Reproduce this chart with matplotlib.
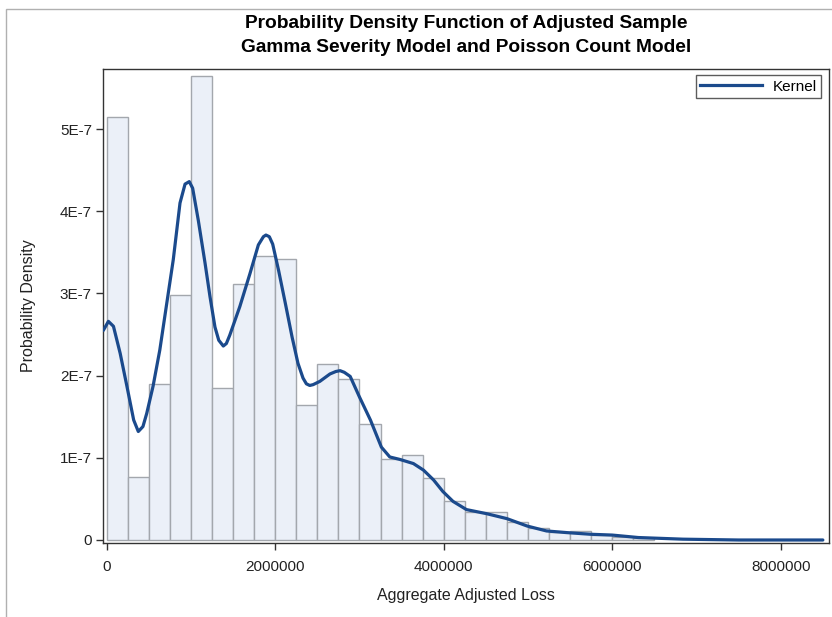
import matplotlib
matplotlib.use("Agg")
import matplotlib.pyplot as plt
from matplotlib.ticker import FuncFormatter
from matplotlib.lines import Line2D
from matplotlib.patches import Rectangle

plt.rcParams['font.family'] = ['Liberation Sans', 'DejaVu Sans']

# Histogram: bin width 250000 starting at 0
bin_width = 250000
bin_starts = [i * bin_width for i in range(26)]
bar_heights = [5.14, 0.77, 1.90, 2.98, 5.65, 1.85, 3.12, 3.45, 3.42, 1.64,
               2.14, 1.96, 1.41, 0.99, 1.04, 0.75, 0.47, 0.34, 0.34, 0.22,
               0.15, 0.10, 0.11, 0.06, 0.04, 0.02]  # x 1E-7

# Kernel density curve (x in millions, y in 1E-7)
kernel_x = [-0.04, 0.02, 0.08, 0.16, 0.24, 0.32, 0.375, 0.43, 0.475, 0.55,
            0.63, 0.71, 0.79, 0.87, 0.93, 0.98, 1.02, 1.087, 1.167, 1.226,
            1.285, 1.33, 1.384, 1.42, 1.46, 1.58, 1.70, 1.80, 1.86, 1.89,
            1.93, 1.97, 2.04, 2.12, 2.20, 2.27, 2.33, 2.37, 2.41, 2.45,
            2.53, 2.65, 2.72, 2.77, 2.82, 2.89, 3.00, 3.13, 3.26, 3.36,
            3.48, 3.64, 3.76, 3.88, 3.99, 4.11, 4.27, 4.51, 4.75, 4.99,
            5.22, 5.46, 5.74, 6.00, 6.31, 6.84, 7.5, 8.5]
kernel_y = [2.55, 2.66, 2.60, 2.27, 1.87, 1.46, 1.32, 1.38, 1.54, 1.87,
            2.31, 2.86, 3.41, 4.10, 4.33, 4.36, 4.28, 3.89, 3.37, 2.96,
            2.59, 2.43, 2.36, 2.39, 2.49, 2.84, 3.24, 3.59, 3.69, 3.71,
            3.69, 3.60, 3.28, 2.88, 2.47, 2.15, 1.97, 1.90, 1.88, 1.89,
            1.93, 2.02, 2.05, 2.06, 2.04, 1.99, 1.74, 1.46, 1.13, 1.01,
            0.98, 0.93, 0.85, 0.73, 0.59, 0.47, 0.37, 0.32, 0.26, 0.17,
            0.11, 0.09, 0.07, 0.06, 0.03, 0.01, 0.0, 0.0]

x_ticks = [0, 2000000, 4000000, 6000000, 8000000]
y_ticks = [0, 1e-7, 2e-7, 3e-7, 4e-7, 5e-7]

W, H = 832, 617
fig = plt.figure(figsize=(W / 100, H / 100), dpi=100)
ax_w, ax_h = 829 - 103, 543 - 69
ax = fig.add_axes([103 / W, 1 - 543 / H, ax_w / W, ax_h / H])

ax.bar([s for s in bin_starts], [h * 1e-7 for h in bar_heights], width=bin_width,
       align='edge', color='#ebf0f8', edgecolor='#a3a7ad', linewidth=1.0, zorder=2)
ax.plot([v * 1e6 for v in kernel_x], [v * 1e-7 for v in kernel_y],
        color='#1b4a8c', linewidth=2.3, zorder=3, solid_capstyle='round',
        solid_joinstyle='round')

ax.set_xlim(-44000, 8573000)
ax.set_ylim(-0.0365e-7, 5.73e-7)
ax.set_xticks(x_ticks)
ax.set_yticks(y_ticks)
ax.xaxis.set_major_formatter(FuncFormatter(lambda v, p: '%d' % round(v)))


def yfmt(v, p):
    if abs(v) < 1e-12:
        return '0'
    return '%dE-7' % round(v / 1e-7)


ax.yaxis.set_major_formatter(FuncFormatter(yfmt))
ax.tick_params(axis='both', direction='out', length=5, width=1, color='#333333',
               labelsize=11, labelcolor='#222222')
ax.tick_params(axis='x', pad=7)
ax.tick_params(axis='y', pad=3)
for sp in ax.spines.values():
    sp.set_color('#333333')
    sp.set_linewidth(1.0)

ax.set_xlabel('Aggregate Adjusted Loss', fontsize=11.5, color='#222222', labelpad=10)
ax.set_ylabel('Probability Density', fontsize=11.5, color='#222222', labelpad=17)

fig.text(466 / W, 1 - 23 / H, 'Probability Density Function of Adjusted Sample',
         ha='center', va='center', fontsize=13.8, fontweight='bold', color='#000000')
fig.text(466 / W, 1 - 48 / H, 'Gamma Severity Model and Poisson Count Model',
         ha='center', va='center', fontsize=13.8, fontweight='bold', color='#000000')

handle = Line2D([], [], color='#1b4a8c', linewidth=2.3)
leg = ax.legend([handle], ['Kernel'], loc='upper right', fontsize=11,
                bbox_to_anchor=(1 - 8 / ax_w, 1 - 6 / ax_h), borderaxespad=0,
                frameon=True, fancybox=False, handlelength=4.0, handletextpad=0.7,
                borderpad=0.3)
leg.get_frame().set_edgecolor('#333333')
leg.get_frame().set_linewidth(1.0)

# outer frame border of the graph cell
fig.add_artist(Rectangle((6 / W, -0.1), 1.2, 1 - 9 / H + 0.1, transform=fig.transFigure,
                         fill=False, edgecolor='#b0b0b0', linewidth=1.0))

fig.savefig('out.png', dpi=100)
